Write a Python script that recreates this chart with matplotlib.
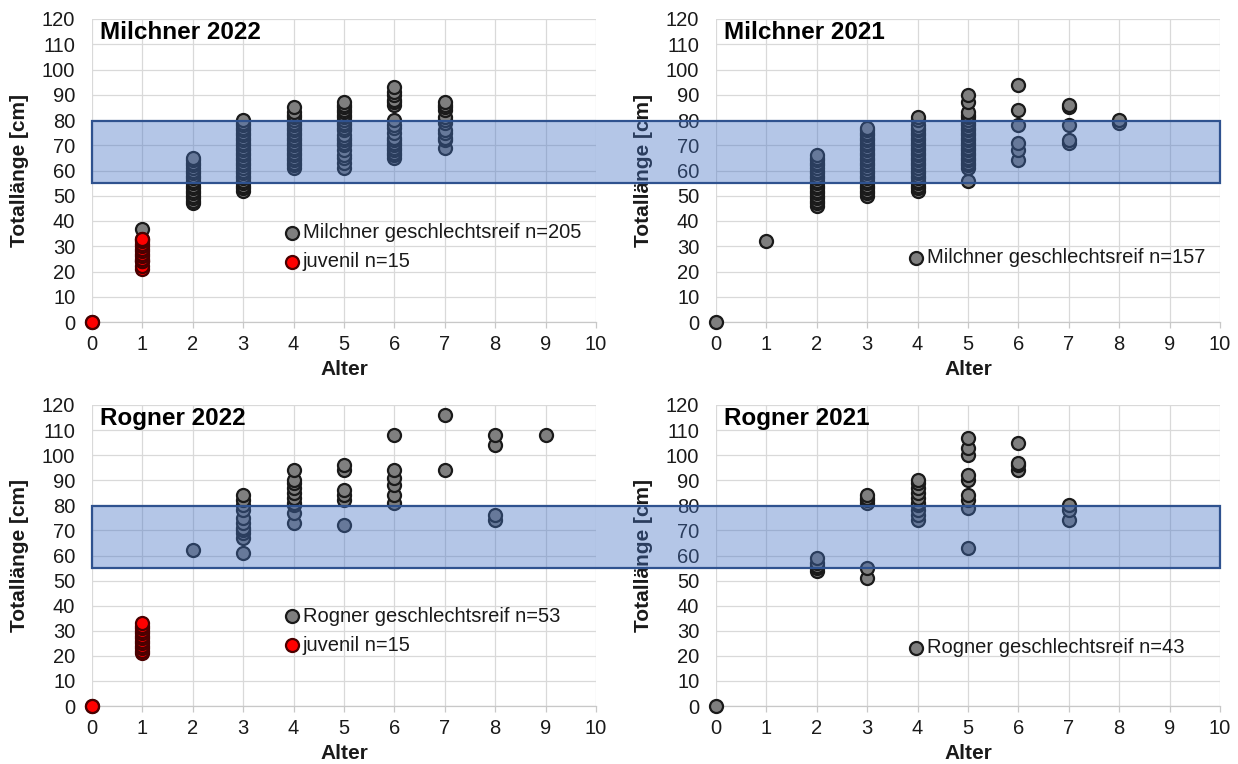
import matplotlib
matplotlib.use("Agg")
import matplotlib.pyplot as plt
from matplotlib.patches import Rectangle
from matplotlib import transforms

plt.rcParams['font.family'] = ['Liberation Sans', 'DejaVu Sans']

# ---------------- data (age -> total lengths in cm) ----------------
ages = list(range(0, 11))
yticks = list(range(0, 121, 10))

m22_mature = {0: [0], 1: [37],
              2: [47, 48, 49, 50, 51, 52, 53, 54, 55, 56, 57, 58, 59, 60, 61, 62, 63, 64, 65],
              3: [52, 53, 54, 55, 56, 57, 58, 59, 60, 61, 62, 63, 64, 65, 66, 67, 68, 69, 70,
                  71, 72, 73, 74, 75, 76, 77, 78, 79, 80],
              4: [61, 62, 63, 64, 65, 66, 67, 68, 69, 70, 71, 72, 73, 74, 75, 76, 77, 78, 79,
                  80, 81, 82, 83, 85],
              5: [61, 63, 65, 66, 68, 70, 71, 72, 73, 74, 76, 77, 78, 79, 80, 81, 82, 83, 84,
                  85, 86, 87],
              6: [65, 66, 67, 68, 69, 70, 71, 72, 73, 75, 77, 78, 80, 86, 87, 88, 90, 91, 93],
              7: [69, 72, 73, 75, 76, 79, 80, 81, 84, 85, 86, 87]}
m22_juvenile = {0: [0], 1: [21, 22, 24, 24, 25, 26, 27, 28, 29, 30, 31, 32, 33, 33]}

m21_mature = {0: [0], 1: [32],
              2: [46, 47, 48, 49, 50, 51, 52, 53, 54, 55, 56, 57, 58, 59, 60, 61, 62, 63, 64,
                  65, 66],
              3: [50, 51, 52, 53, 54, 55, 56, 57, 58, 59, 60, 61, 62, 63, 64, 65, 66, 67, 68,
                  69, 70, 71, 72, 73, 74, 75, 76, 77],
              4: [52, 53, 54, 55, 56, 57, 58, 59, 60, 61, 62, 63, 64, 65, 66, 67, 68, 69, 70,
                  71, 72, 73, 74, 75, 76, 77, 78, 80, 81],
              5: [56, 61, 62, 63, 64, 65, 66, 67, 68, 69, 70, 71, 72, 73, 74, 75, 76, 77, 78,
                  79, 80, 81, 82, 83, 87, 90],
              6: [64, 68, 71, 78, 84, 94],
              7: [71, 72, 78, 85, 86],
              8: [79, 80]}

r22_mature = {0: [0], 2: [62],
              3: [61, 67, 69, 70, 71, 73, 75, 78, 80, 82, 84],
              4: [73, 77, 80, 81, 83, 85, 87, 89, 90, 94],
              5: [72, 82, 84, 86, 94, 96],
              6: [81, 84, 88, 91, 94, 108],
              7: [94, 116],
              8: [74, 76, 104, 108],
              9: [108]}
r22_juvenile = {0: [0], 1: [21, 22, 23, 24, 25, 26, 27, 28, 29, 30, 31, 32, 33]}

r21_mature = {0: [0],
              2: [54, 55, 56, 57, 59],
              3: [51, 55, 81, 82, 83, 84],
              4: [74, 76, 78, 80, 81, 83, 85, 87, 89, 90],
              5: [63, 79, 82, 84, 90, 92, 100, 103, 107],
              6: [94, 96, 97, 105],
              7: [74, 78, 80]}

band_low, band_high = 55, 79.6

panels = [
    ("Milchner 2022", m22_mature, "Milchner geschlechtsreif n=205", m22_juvenile, "juvenil n=15"),
    ("Milchner 2021", m21_mature, "Milchner geschlechtsreif n=157", None, None),
    ("Rogner 2022", r22_mature, "Rogner geschlechtsreif n=53", r22_juvenile, "juvenil n=15"),
    ("Rogner 2021", r21_mature, "Rogner geschlechtsreif n=43", None, None),
]

# ---------------- layout ----------------
W, H = 1238, 764
fig = plt.figure(figsize=(W / 100, H / 100), dpi=100)

def frac_rect(x0, x1, ytop, ybot):
    return [x0 / W, 1 - ybot / H, (x1 - x0) / W, (ybot - ytop) / H]

rects = [frac_rect(92, 596, 19, 322), frac_rect(716, 1220, 19, 322),
         frac_rect(92, 596, 405, 706), frac_rect(716, 1220, 405, 706)]
legend_y = [0.248, 0.213, 0.250, 0.193]

def expand(d):
    xs, ys = [], []
    for a, vals in d.items():
        xs += [a] * len(vals)
        ys += vals
    return xs, ys

grid_c = '#D9D9D9'
txt_c = '#1a1a1a'
msize = 88
axes = []
for i, (title, mature, mlabel, juv, jlabel) in enumerate(panels):
    ax = fig.add_axes(rects[i])
    axes.append(ax)
    ax.set_xlim(0, 10)
    ax.set_ylim(0, 120)
    ax.set_xticks(ages)
    ax.set_yticks(yticks)
    ax.grid(True, color=grid_c, lw=0.9, zorder=0)
    ax.set_axisbelow(True)
    for s in ['top', 'right', 'left']:
        ax.spines[s].set_visible(False)
    ax.spines['bottom'].set_color('#C8C8C8')
    ax.spines['bottom'].set_linewidth(0.9)
    ax.tick_params(axis='x', colors='#C8C8C8', length=4, width=0.9, pad=5,
                   labelsize=14.5, labelcolor=txt_c)
    ax.tick_params(axis='y', length=0, pad=12, labelsize=14.5, labelcolor=txt_c)

    xs, ys = expand(mature)
    ax.scatter(xs, ys, s=msize, c='#7F7F7F', edgecolors='#1a1a1a', linewidths=1.6,
               zorder=3, clip_on=False, label=mlabel)
    if juv is not None:
        xs, ys = expand(juv)
        ax.scatter(xs, ys, s=msize, c='#FF0000', edgecolors='#4a0000', linewidths=1.6,
                   zorder=4, clip_on=False, label=jlabel)

    ax.text(0.016, 0.956, title, transform=ax.transAxes, fontsize=17.5,
            fontweight='bold', ha='left', va='center', color='black')
    ax.set_xlabel("Alter", fontsize=15, fontweight='bold', color=txt_c)
    ax.xaxis.set_label_coords(0.5, -0.158)
    ax.xaxis.label.set_va('center')
    ax.set_ylabel("Totallänge [cm]", fontsize=15, fontweight='bold', color=txt_c)
    ax.yaxis.set_label_coords(-0.143, 0.5)
    ax.yaxis.label.set_va('center')

    ax.legend(loc='center left', bbox_to_anchor=(0.380, legend_y[i]), frameon=False,
              fontsize=14.5, handlelength=0.8, handletextpad=0.15, borderpad=0,
              borderaxespad=0, labelspacing=0.5, scatterpoints=1, labelcolor=txt_c)

# ---------------- shaded band spanning both columns ----------------
for row in (0, 2):
    trans = transforms.blended_transform_factory(fig.transFigure, axes[row].transData)
    band = Rectangle((92 / W, band_low), (1220 - 92) / W, band_high - band_low,
                     transform=trans, facecolor=(0x44 / 255, 0x72 / 255, 0xC4 / 255, 0.4),
                     edgecolor='#2F528F', linewidth=1.6, zorder=5)
    fig.add_artist(band)

fig.savefig("out.png", dpi=100, facecolor='white')
